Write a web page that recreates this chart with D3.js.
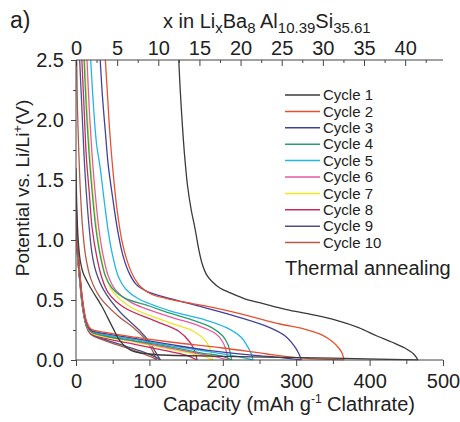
<!DOCTYPE html>
<html><head><meta charset="utf-8">
<script src="https://cdn.jsdelivr.net/npm/d3@7"></script>
<style>
html,body{margin:0;padding:0;background:#fff;}
svg text{font-family:"Liberation Sans",Arial,sans-serif;fill:#222;}
</style></head>
<body><svg id="chart" width="460" height="422"></svg>
<script>
// ---- data (capacity mAh/g, potential V) ----
const cycleNames = ["Cycle 1","Cycle 2","Cycle 3","Cycle 4","Cycle 5","Cycle 6","Cycle 7","Cycle 8","Cycle 9","Cycle 10"];
const cycleColors = ["#3a3a3a","#e8502e","#40409e","#2a9e6e","#22b4ea","#e65a9e","#f0e424","#c62c5c","#4e4e86","#b45a48"];
const xTicks = [0,100,200,300,400,500];
const xMinor = [50,150,250,350,450];
const yTicks = [0.0,0.5,1.0,1.5,2.0,2.5];
const yMinor = [0.25,0.75,1.25,1.75,2.25];
const topTicks = [0,5,10,15,20,25,30,35,40];
const topMinor = [2.5,7.5,12.5,17.5,22.5,27.5,32.5,37.5,42.5];
const topMax = 44.6; // x in LixBa8Al10.39Si35.61 at 500 mAh/g

// delithiation-type curves (upper branch)
const up1 = [[140,2.5],[142,2.25],[145,1.95],[148,1.7],[152,1.45],[157,1.25],[162,1.1],[167,0.93],[172,0.8],[178,0.71],[186,0.65],[196,0.6],[210,0.56],[230,0.51],[255,0.47],[287,0.42],[320,0.38],[355,0.33],[385,0.27],[410,0.2],[430,0.15],[448,0.1],[460,0.05],[466,0]];
const up2 = [[40,2.5],[43,2.2],[46,1.9],[50,1.6],[56,1.25],[63,0.98],[70,0.82],[78,0.7],[88,0.61],[102,0.55],[125,0.51],[150,0.48],[200,0.42],[240,0.36],[278,0.3],[310,0.26],[335,0.21],[350,0.15],[358,0.1],[363,0.05],[365,0]];
const up3 = [[33,2.5],[36,2.2],[40,1.9],[44,1.62],[50,1.35],[57,1.07],[64,0.87],[72,0.73],[82,0.63],[97,0.57],[130,0.51],[173,0.44],[220,0.36],[264,0.27],[285,0.2],[297,0.12],[303,0.06],[307,0]];
const up4 = [[11,2.5],[14,2.1],[18,1.7],[22,1.4],[27,1.1],[33,0.87],[40,0.7],[49,0.6],[65,0.52],[100,0.45],[128,0.39],[160,0.33],[185,0.27],[200,0.2],[207,0.13],[210,0.06],[212,0]];
const up5 = [[20,2.5],[24,2.1],[28,1.8],[33,1.6],[39,1.3],[45,1.03],[51,0.84],[58,0.69],[68,0.59],[85,0.51],[128,0.41],[173,0.34],[205,0.27],[225,0.19],[234,0.11],[239,0.05],[241,0]];
const up6 = [[15,2.5],[18,2.1],[22,1.7],[26,1.4],[31,1.1],[37,0.87],[44,0.7],[53,0.59],[75,0.48],[128,0.36],[165,0.29],[190,0.22],[200,0.15],[205,0.07],[207,0]];
const up7 = [[12,2.5],[15,2.1],[19,1.7],[23,1.4],[28,1.1],[34,0.87],[41,0.69],[50,0.57],[75,0.44],[128,0.31],[160,0.24],[175,0.17],[182,0.1],[185,0.04],[186,0]];
const up8 = [[8,2.5],[11,2.1],[14,1.7],[18,1.4],[22,1.1],[28,0.87],[35,0.69],[44,0.56],[65,0.44],[110,0.32],[140,0.24],[155,0.15],[162,0.07],[165,0]];
const up9 = [[5,2.5],[8,2.1],[11,1.7],[14,1.4],[18,1.1],[22,0.88],[27,0.74],[38,0.58],[60,0.4],[86,0.25],[100,0.15],[108,0.07],[113,0.02],[115,0]];
const up10 = [[1,2.5],[2,2.1],[4,1.7],[6,1.4],[9,1.1],[13,0.87],[20,0.68],[33,0.52],[55,0.38],[80,0.26],[95,0.17],[104,0.08],[108,0.03],[110,0]];

// lithiation-type curves (lower branch)
const down1 = [[0,1.6],[1,1.3],[3,1.0],[6,0.82],[10,0.72],[20,0.6],[35,0.45],[50,0.27],[60,0.16],[75,0.08],[100,0.05],[200,0.03],[350,0.015],[466,0]];
const down2 = [[0,1.4],[2,1.0],[5,0.75],[9,0.5],[14,0.33],[20,0.26],[40,0.23],[80,0.19],[128,0.15],[200,0.1],[260,0.05],[300,0.02],[365,0]];
const down3 = [[0,1.35],[2,0.98],[5,0.73],[9,0.49],[14,0.32],[20,0.25],[40,0.22],[80,0.18],[128,0.13],[180,0.08],[240,0.04],[280,0.02],[307,0]];
const down4 = [[0,1.3],[2,0.95],[5,0.72],[9,0.48],[14,0.31],[20,0.24],[40,0.2],[80,0.16],[128,0.11],[170,0.06],[200,0.03],[212,0]];
const down5 = [[0,1.3],[2,0.96],[5,0.73],[9,0.48],[14,0.31],[20,0.245],[40,0.21],[80,0.17],[128,0.12],[180,0.07],[220,0.03],[241,0]];
const down6 = [[0,1.28],[2,0.94],[5,0.71],[9,0.47],[14,0.3],[20,0.235],[40,0.2],[80,0.155],[128,0.1],[170,0.05],[195,0.02],[207,0]];
const down7 = [[0,1.25],[2,0.92],[5,0.7],[9,0.46],[14,0.3],[20,0.23],[40,0.19],[80,0.15],[128,0.09],[160,0.05],[180,0.02],[186,0]];
const down8 = [[0,1.25],[2,0.9],[5,0.69],[9,0.45],[14,0.29],[20,0.225],[40,0.18],[80,0.13],[120,0.08],[150,0.04],[165,0]];
const down9 = [[0,1.2],[2,0.88],[5,0.67],[9,0.44],[14,0.29],[20,0.22],[40,0.17],[70,0.11],[95,0.06],[110,0.02],[115,0]];
const down10 = [[0,1.2],[2,0.88],[5,0.66],[9,0.43],[14,0.28],[20,0.215],[40,0.16],[70,0.1],[92,0.05],[105,0.02],[110,0]];

const upCurves = [up1,up2,up3,up4,up5,up6,up7,up8,up9,up10];
const downCurves = [down1,down2,down3,down4,down5,down6,down7,down8,down9,down10];

// ---- layout ----
const svg = d3.select("#chart");
const L = 76, R = 443, T = 60, B = 360;
const x = d3.scaleLinear().domain([0,500]).range([L,R]);
const xTop = d3.scaleLinear().domain([0,topMax]).range([L,R]);
const y = d3.scaleLinear().domain([0,2.5]).range([B,T]);

svg.append("defs").append("clipPath").attr("id","clip")
  .append("rect").attr("x",L).attr("y",T-1).attr("width",R-L+2).attr("height",B-T+1.5);

const line = d3.line().x(d=>x(d[0])).y(d=>y(d[1])).curve(d3.curveCatmullRom.alpha(0.5));
const g = svg.append("g").attr("clip-path","url(#clip)");
for (let i = 9; i >= 0; i--) {
  g.append("path").attr("d", line(downCurves[i])).attr("fill","none")
    .attr("stroke", cycleColors[i]).attr("stroke-width",1.3);
  g.append("path").attr("d", line(upCurves[i])).attr("fill","none")
    .attr("stroke", cycleColors[i]).attr("stroke-width",1.3);
}

// ---- axes ----
const axisColor = "#444";
function styleAxis(sel){
  sel.select(".domain").attr("stroke",axisColor);
  sel.selectAll(".tick line").attr("stroke",axisColor);
  sel.selectAll(".tick text").attr("fill","#222").style("font-size","20px").style("font-family",'"Liberation Sans",Arial,sans-serif');
}
const gx = svg.append("g").attr("transform",`translate(0,${B})`)
  .call(d3.axisBottom(x).tickValues(xTicks).tickSize(6).tickPadding(8).tickFormat(d3.format("d")));
styleAxis(gx);
const gxm = svg.append("g").attr("transform",`translate(0,${B})`)
  .call(d3.axisBottom(x).tickValues(xMinor).tickSize(4).tickFormat(""));
styleAxis(gxm); gxm.select(".domain").remove();

const gy = svg.append("g").attr("transform",`translate(${L},0)`)
  .call(d3.axisLeft(y).tickValues(yTicks).tickSize(5).tickPadding(7).tickFormat(d3.format(".1f")));
styleAxis(gy);
const gym = svg.append("g").attr("transform",`translate(${L},0)`)
  .call(d3.axisLeft(y).tickValues(yMinor).tickSize(3).tickFormat(""));
styleAxis(gym); gym.select(".domain").remove();

const gt = svg.append("g").attr("transform",`translate(0,${T})`)
  .call(d3.axisTop(xTop).tickValues(topTicks).tickSizeInner(-6).tickSizeOuter(0).tickPadding(5).tickFormat(d3.format("d")));
styleAxis(gt);
const gtm = svg.append("g").attr("transform",`translate(0,${T})`)
  .call(d3.axisTop(xTop).tickValues(topMinor).tickSizeInner(-3).tickSizeOuter(0).tickFormat(""));
styleAxis(gtm); gtm.select(".domain").remove();
gy.select(".domain").attr("d",`M-0,${T}V${B}`);
gx.select(".domain").attr("d",`M${L},0H${R}`);
gt.select(".domain").attr("d",`M${L},0H${R}`);

// ---- titles ----
svg.append("text").attr("x",10).attr("y",28).style("font-size","23px").text("a)");

const title = svg.append("text").attr("x",163).attr("y",28).style("font-size","20px");
title.append("tspan").text("x in Li");
title.append("tspan").attr("dy",5).style("font-size","15px").text("x");
title.append("tspan").attr("dy",-5).text("Ba");
title.append("tspan").attr("dy",5).style("font-size","15px").text("8");
title.append("tspan").attr("dy",-5).text(" Al");
title.append("tspan").attr("dy",5).style("font-size","15px").text("10.39");
title.append("tspan").attr("dy",-5).text("Si");
title.append("tspan").attr("dy",5).style("font-size","15px").text("35.61");

const xl = svg.append("text").attr("x",289).attr("y",411).attr("text-anchor","middle").style("font-size","20px");
xl.append("tspan").text("Capacity (mAh g");
xl.append("tspan").attr("dy",-8).style("font-size","12px").text("-1");
xl.append("tspan").attr("dy",8).text(" Clathrate)");

const yl = svg.append("text").attr("transform","translate(29,188) rotate(-90)").attr("text-anchor","middle").style("font-size","19px");
yl.append("tspan").text("Potential vs. Li/Li");
yl.append("tspan").attr("dy",-7).style("font-size","13px").text("+");
yl.append("tspan").attr("dy",7).text("(V)");

// ---- legend ----
const lg = svg.append("g");
cycleNames.forEach((n,i)=>{
  const yy = 95 + i*16.4;
  lg.append("line").attr("x1",285).attr("x2",320).attr("y1",yy).attr("y2",yy)
    .attr("stroke",cycleColors[i]).attr("stroke-width",1.5);
  lg.append("text").attr("x",323).attr("y",yy).attr("dy","0.35em").style("font-size","15px").text(n);
});
svg.append("text").attr("x",285).attr("y",275).style("font-size","20px").text("Thermal annealing");
</script></body></html>
